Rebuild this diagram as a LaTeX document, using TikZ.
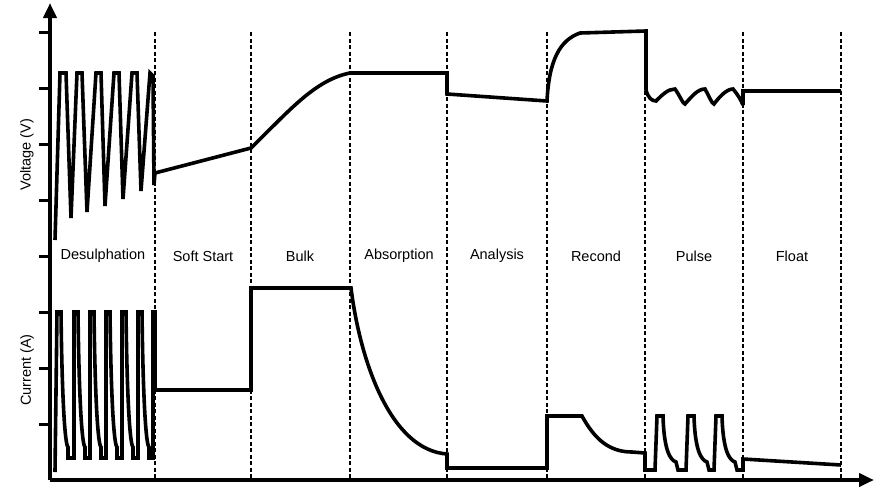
\documentclass[tikz,border=0pt]{standalone}
\usepackage{fontspec}
\setmainfont{Liberation Sans}
\usetikzlibrary{arrows.meta}
\begin{document}
\begin{tikzpicture}[x=1pt,y=-1pt,
  curve/.style={line width=3.6pt,line join=miter,miter limit=4},
  axis/.style={line width=4pt,-{Triangle[length=15pt,width=13pt]}},
  sep/.style={dashed,line width=1.2pt,dash pattern=on 4pt off 2.5pt},
  lab/.style={font=\fontsize{14.5}{16}\selectfont}]
\useasboundingbox (0,0) rectangle (887,499);
% separators
\foreach \x in {155,251,350,447,547,645,743,841}
  \draw[sep] (\x,32) -- (\x,480);
% ticks
\foreach \y in {32,88,144,200,256,312,368,424}
  \draw[line width=3pt] (39,\y) -- (50,\y);
% axes
\coordinate (o) at (50,480);
\coordinate (ytop) at (50,3);
\coordinate (xend) at (874,480);
\draw[axis] (o) -- (ytop);
\draw[axis] (o) -- (xend);
% labels
\node[lab,rotate=90] (vl) at (27,155) {Voltage (V)};
\node[lab,rotate=90] (cl) at (27,370) {Current (A)};
\foreach \x/\t [count=\i] in {103/Desulphation,203/Soft Start,300/Bulk,399/Absorption,497/Analysis,596/Recond,694/Pulse,792/Float}
  \node[lab] (s\i) at (\x,256) {\t};
% voltage
\draw[curve] (55,240) -- (60,73) -- (66,73) -- (71,218) -- (77,73) -- (82,73) -- (87,212)
  -- (96,73) -- (101,73) -- (105,206) -- (114,73) -- (119,73) -- (123,199)
  -- (132,73) -- (137,73) -- (141,191) -- (150,73) -- (153,76) -- (154,185) -- (155,173)
  -- (251,148) .. controls (290,110) and (315,80) .. (350,73) -- (447,73) -- (447,94)
  -- (547,101) .. controls (549,60) and (560,40) .. (580,33) -- (646,31) -- (646,90)
  .. controls (648,98) and (652,101) .. (656,101) .. controls (662,95) and (668,89) .. (675,89)
  .. controls (680,96) and (683,104) .. (685,104) .. controls (692,96) and (698,89) .. (705,89)
  .. controls (709,96) and (712,104) .. (714,104) .. controls (720,96) and (727,89) .. (733,89)
  .. controls (738,95) and (741,100) .. (743,105) -- (743,91) -- (841,91);
% current
\draw[curve] (55,472) -- (57,312) -- (61,312)
  .. controls (62,400) and (65,445) .. (68,447) -- (68,458) -- (74,458) -- (74,312) -- (78,312)
  .. controls (79,400) and (82,445) .. (85,447) -- (85,458) -- (90,458) -- (90,312) -- (94,312)
  .. controls (95,400) and (98,445) .. (101,447) -- (101,458) -- (106,458) -- (106,312) -- (110,312)
  .. controls (111,400) and (114,445) .. (117,447) -- (117,458) -- (122,458) -- (122,312) -- (126,312)
  .. controls (127,400) and (130,445) .. (133,447) -- (133,458) -- (138,458) -- (138,312) -- (142,312)
  .. controls (143,400) and (146,445) .. (149,447) -- (149,458) -- (153,458) -- (153,312) -- (155,312) -- (155,390)
  -- (251,390) -- (251,288) -- (351,288) .. controls (360,360) and (390,450) .. (447,454) -- (447,468)
  -- (547,468) -- (547,416) -- (582,416) .. controls (595,440) and (610,452) .. (632,452) -- (645,453) -- (645,470)
  -- (655,470) -- (657,416) -- (663,416) .. controls (664,450) and (670,460) .. (676,462) -- (678,470) -- (686,470)
  -- (688,416) -- (694,416) .. controls (695,450) and (701,460) .. (707,462) -- (709,470) -- (714,470)
  -- (716,416) -- (722,416) .. controls (723,450) and (729,460) .. (735,462) -- (737,470) -- (743,470)
  -- (743,459) -- (841,465);
\end{tikzpicture}
\end{document}
